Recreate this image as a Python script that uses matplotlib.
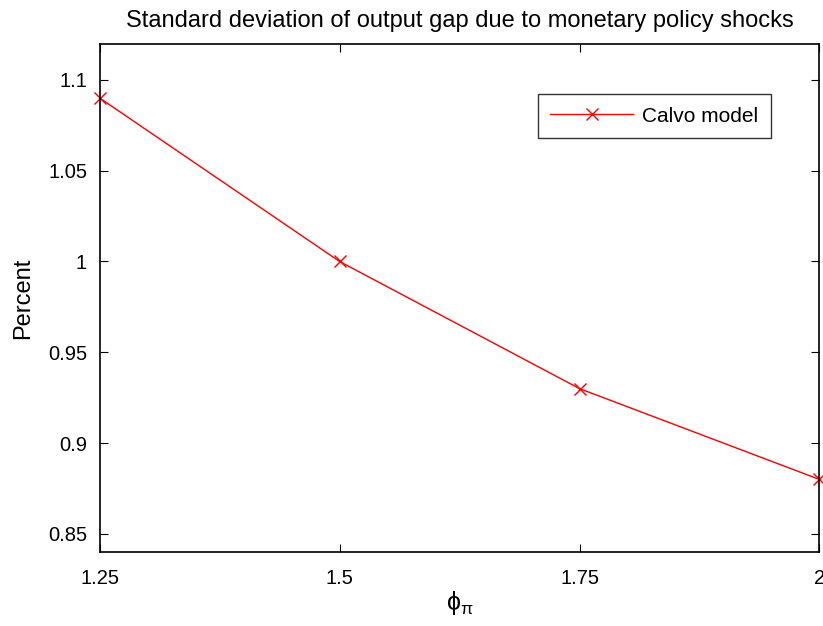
import numpy as np
import matplotlib.pyplot as plt

plt.rcParams['font.family'] = ['Liberation Sans', 'DejaVu Sans']
plt.rcParams['xtick.direction'] = 'in'
plt.rcParams['ytick.direction'] = 'in'
plt.rcParams['xtick.top'] = True
plt.rcParams['ytick.right'] = True
plt.rcParams['mathtext.fontset'] = 'custom'
plt.rcParams['mathtext.rm'] = 'Liberation Sans'
plt.rcParams['mathtext.it'] = 'Liberation Sans'

phi_pi = [1.25, 1.5, 1.75, 2.0]
std_gap = [1.09, 1.00, 0.93, 0.88]
xticks = [1.25, 1.5, 1.75, 2.0]
xtick_labels = ['1.25', '1.5', '1.75', '2']
yticks = [0.85, 0.9, 0.95, 1.0, 1.05, 1.1]
ytick_labels = ['0.85', '0.9', '0.95', '1', '1.05', '1.1']

fig = plt.figure(figsize=(8.23, 6.26), dpi=100)
ax = fig.add_axes([0.121, 0.118, 0.8747, 0.8125])

ax.plot(phi_pi, std_gap, color='red', lw=1, marker='x', ms=8.5, mew=1, label='Calvo model', clip_on=False)
ax.set_xlim(1.25, 2.0)
ax.set_ylim(0.84, 1.12)
ax.set_xticks(xticks)
ax.set_xticklabels(xtick_labels)
ax.set_yticks(yticks)
ax.set_yticklabels(ytick_labels)
ax.tick_params(labelsize=14.5, length=6, width=0.8)
ax.tick_params(axis='y', pad=9)
ax.tick_params(axis='x', pad=12)
for s in ax.spines.values():
    s.set_linewidth(1.2)

ax.set_title('Standard deviation of output gap due to monetary policy shocks', fontsize=17, pad=12)
ax.set_xlabel(r'$\phi_{\pi}$', fontsize=18, labelpad=1)
ax.set_ylabel('Percent', fontsize=17, labelpad=10)

leg = ax.legend(loc='upper right', bbox_to_anchor=(0.9326, 0.9007), fontsize=15, frameon=True,
                fancybox=False, edgecolor='black', handlelength=4.0, handletextpad=0.43,
                borderpad=0.6, borderaxespad=0)
leg.get_frame().set_linewidth(1)

fig.savefig('out.png', dpi=100)
